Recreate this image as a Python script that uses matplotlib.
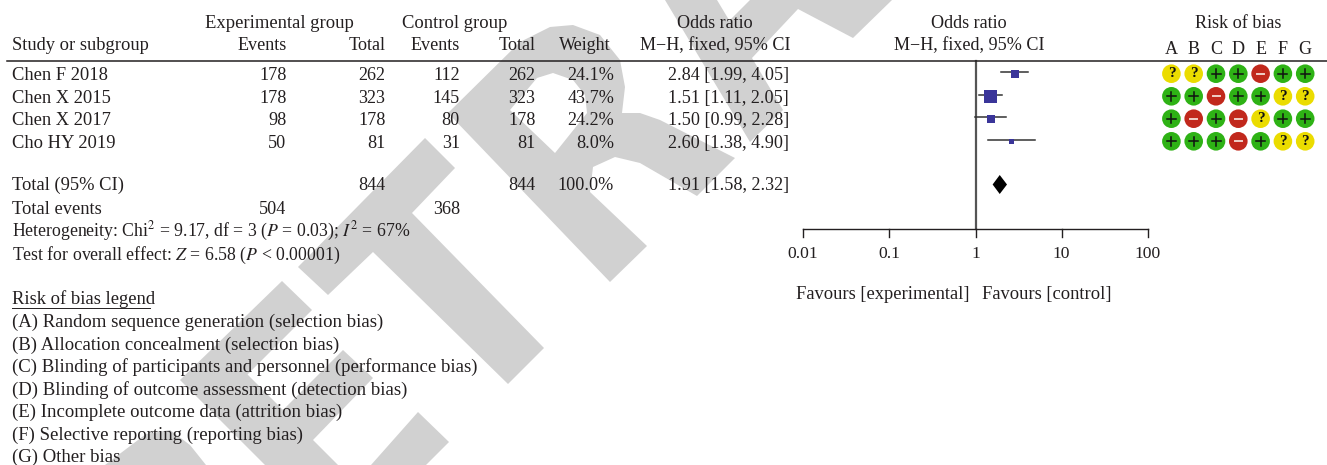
import math
import matplotlib
matplotlib.use('Agg')
import matplotlib.pyplot as plt
from matplotlib.patches import Polygon, Circle, Rectangle

plt.rcParams['font.family'] = ['Liberation Serif', 'DejaVu Serif']
plt.rcParams['mathtext.fontset'] = 'stix'

# Table data
studies = ['Chen F 2018', 'Chen X 2015', 'Chen X 2017', 'Cho HY 2019']
exp_events = [178, 178, 98, 50]
exp_total = [262, 323, 178, 81]
ctrl_events = [112, 145, 80, 31]
ctrl_total = [262, 323, 178, 81]
weights = ['24.1%', '43.7%', '24.2%', '8.0%']
or_text = ['2.84 [1.99, 4.05]', '1.51 [1.11, 2.05]', '1.50 [0.99, 2.28]', '2.60 [1.38, 4.90]']
or_mid = [2.84, 1.51, 1.50, 2.60]
or_low = [1.99, 1.11, 0.99, 1.38]
or_high = [4.05, 2.05, 2.28, 4.90]
box_size = [8, 13, 8, 5]
total_or = [1.58, 1.91, 2.32]
axis_ticks = [0.01, 0.1, 1, 10, 100]
axis_labels = ['0.01', '0.1', '1', '10', '100']
bias_cols = ['A', 'B', 'C', 'D', 'E', 'F', 'G']
bias = ['??++-++', '++-++??', '+-+-?++', '+++-+??']
legend_lines = ['(A) Random sequence generation (selection bias)',
                '(B) Allocation concealment (selection bias)',
                '(C) Blinding of participants and personnel (performance bias)',
                '(D) Blinding of outcome assessment (detection bias)',
                '(E) Incomplete outcome data (attrition bias)',
                '(F) Selective reporting (reporting bias)',
                '(G) Other bias']

# Grey RETRACTED stamp, letters traced in pixels
stamp = [
    # R (cut by the bottom edge)
    [(105, 465), (146, 434), (170, 430), (190, 445), (206, 465)],
    # E
    [(282, 281), (312, 310), (247.5, 374.5), (283, 410), (343, 350), (373, 378), (313, 440), (338, 465), (265, 465), (180, 380)],
    [(418, 412), (449, 442), (426, 465), (371, 465)],
    # T
    [(425, 138), (455, 168), (412, 213), (544, 348), (508, 384), (373, 252), (328, 295), (298, 267)],
    # R
    [(448, 113), (520, 42), (550, 27), (573, 25), (600, 35), (620, 60), (625, 87), (622, 113), (640, 113), (660, 120),
     (735, 158), (697, 196), (640, 163), (615, 157), (593, 167), (590, 192), (647, 246), (610, 282)],
    # A
    [(665, 0), (717, 0), (729.4, 20.6), (750, 0), (892, 0), (853, 38), (798, 9), (752, 58), (783, 110), (750, 142)],
]
r_counter = [(510, 110), (537, 78), (553, 73), (573, 80), (585, 95), (587, 113), (555, 153)]

fig = plt.figure(figsize=(13.27, 4.65), dpi=100)
ax = fig.add_axes([0, 0, 1, 1])
ax.set_xlim(0, 1327)
ax.set_ylim(465, 0)
ax.axis('off')

FS = 13.1
INK = '#231f20'


def t(x, y, s, ha='left', size=FS):
    ax.text(x, y + 0.5, s, ha=ha, va='center', fontsize=size, color=INK, zorder=5)


def or_x(v):
    return 975.5 + 86.2 * math.log10(v)


for piece in stamp:
    ax.add_patch(Polygon(piece, closed=True, color='#d1d1d1', lw=0, zorder=1))
ax.add_patch(Polygon(r_counter, closed=True, color='white', lw=0, zorder=1.5))

# Header
t(279, 23, 'Experimental group', ha='center', size=13.4)
t(455, 23, 'Control group', ha='center', size=13.4)
t(12, 45, 'Study or subgroup', size=13.3)
t(286.5, 45, 'Events', ha='right')
t(385.5, 45, 'Total', ha='right')
t(460, 45, 'Events', ha='right')
t(535.5, 45, 'Total', ha='right')
t(611, 45, 'Weight', ha='right')
t(715, 23, 'Odds ratio', ha='center')
t(715, 45, 'M\u2212H, fixed, 95% CI', ha='center')
t(969, 23, 'Odds ratio', ha='center')
t(969, 45, 'M\u2212H, fixed, 95% CI', ha='center')
t(1238, 23, 'Risk of bias', ha='center')
ax.plot([7, 1327], [61, 61], color=INK, lw=1.1, zorder=4)

row_y = [75, 98, 120, 143]
for i, y in enumerate(row_y):
    t(12, y, studies[i], size=13.3)
    t(286.5, y, str(exp_events[i]), ha='right')
    t(385.5, y, str(exp_total[i]), ha='right')
    t(460, y, str(ctrl_events[i]), ha='right')
    t(535.5, y, str(ctrl_total[i]), ha='right')
    t(614, y, weights[i], ha='right')
    t(789, y, or_text[i], ha='right')

t(12, 185, 'Total (95% CI)', size=13.3)
t(385.5, 185, '844', ha='right')
t(535.5, 185, '844', ha='right')
t(614, 185, '100.0%', ha='right')
t(789, 185, '1.91 [1.58, 2.32]', ha='right')
t(12, 209, 'Total events', size=13.3)
t(286.5, 209, '504', ha='right')
t(460, 209, '368', ha='right')
t(12, 231, r'Heterogeneity: Chi$^{2}$ = 9.17, df = 3 ($P$ = 0.03); $I^{2}$ = 67%', size=12.8)
t(12, 255, r'Test for overall effect: $Z$ = 6.58 ($P$ < 0.00001)', size=12.8)

# Legend
t(12, 299, 'Risk of bias legend', size=13.4)
ax.plot([12, 150], [307.5, 307.5], color=INK, lw=0.7, zorder=5)
for i, line in enumerate(legend_lines):
    t(12, 322 + i * 22.5, line, size=13.5)

# Forest plot
ax.plot([976, 976], [61, 229], color='#555555', lw=1.6, zorder=3)
ax.plot([or_x(axis_ticks[0]), or_x(axis_ticks[-1])], [229, 229], color=INK, lw=1, zorder=3)
for tick, label in zip(axis_ticks, axis_labels):
    ax.plot([or_x(tick), or_x(tick)], [229, 237], color=INK, lw=1, zorder=3)
    t(or_x(tick), 253, label, ha='center', size=12.6)
t(796, 294, 'Favours [experimental]', size=13.3)
t(982, 294, 'Favours [control]', size=13.3)

for i, y in enumerate([72.5, 95, 117.5, 140]):
    ax.plot([or_x(or_low[i]), or_x(or_high[i])], [y, y], color='#333333', lw=1.1, zorder=3)
    s = box_size[i]
    ax.add_patch(Rectangle((or_x(or_mid[i]) - s / 2, y + 1.5 - s / 2), s, s, color='#3a3599', lw=0, zorder=4))
ax.add_patch(Polygon([(or_x(total_or[0]), 184.5), (or_x(total_or[1]), 175), (or_x(total_or[2]), 184.5), (or_x(total_or[1]), 194)],
                     closed=True, color='black', lw=0, zorder=4))

# Risk of bias dots
colors = {'+': '#2eb215', '-': '#c1281c', '?': '#ebdc00'}
for j, name in enumerate(bias_cols):
    x = 1171.4 + j * 22.3
    t(x, 49, name, ha='center')
    for i, y in enumerate([73.7, 96.3, 118.7, 141.3]):
        mark = bias[i][j]
        ax.add_patch(Circle((x, y), 9.3, color=colors[mark], lw=0, zorder=4))
        if mark == '+':
            ax.plot([x - 4.5, x + 4.5], [y, y], color='#111111', lw=1.1, zorder=5)
            ax.plot([x, x], [y - 4.5, y + 4.5], color='#111111', lw=1.1, zorder=5)
        elif mark == '-':
            ax.plot([x - 3.5, x + 3.5], [y, y], color='#f0d0c8', lw=1.4, zorder=5)
        else:
            ax.text(x, y, '?', ha='center', va='center', fontsize=11, color='#111111', fontweight='bold', zorder=5)

fig.savefig('out.png', dpi=100)
